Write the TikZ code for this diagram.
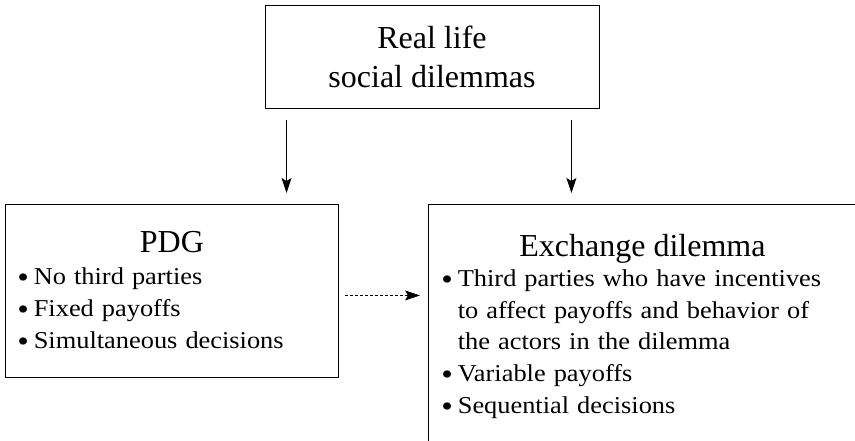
\documentclass[tikz,border=0pt]{standalone}
\usepackage{fontspec}
\setmainfont{Liberation Serif}[FakeStretch=1.09]
\newfontfamily{\ttlfamily}{Liberation Serif}
\usepackage{graphicx}
\usepackage{tikz}
\usetikzlibrary{positioning}
\usetikzlibrary{arrows.meta}
\newcommand{\ttlfont}{\ttlfamily\fontsize{32}{39}\selectfont}
\newcommand{\bul}{\raisebox{-0.12em}{\scalebox{1.25}{\textbullet}}\hspace{0.2em}}
\tikzset{
    x=1pt, y=-1pt, % one unit is one pixel of the page
    box/.style={ % Frame of every block
        draw,
        line width=0.9pt,
        font=\fontsize{24.2}{31.7}\selectfont
    },
    listbox/.style={ % Block with a title and bullet lines
        box,
        anchor=north west,
        align=left
    },
    every edge/.style={ % Sets the properties for each link
        draw,
        -{Stealth[length=15pt,width=10pt,inset=3pt]},
        line width=0.8pt
    }
}

\begin{document}
\begin{tikzpicture}
            \clip (0,0) rectangle (855,440);
            \node[box, align=center, font=\ttlfont, minimum width=334pt, minimum height=103pt] (real) at (432,56.5) {Real life\\social dilemmas};
            \node[listbox, minimum width=333pt, minimum height=173pt, inner xsep=12pt, text width=309pt] (pdg) at (5,204)
                {\vspace*{3pt}{\centering\ttlfont PDG\par}\vspace{-2pt}
                 \bul No third parties\\
                 \bul Fixed payoffs\\
                 \bul Simultaneous decisions};
            \node[listbox, minimum width=428pt, minimum height=244pt, inner xsep=13pt, text width=402pt] (exch) at (428,204)
                {{\centering\ttlfont Exchange dilemma\par}\vspace{-2pt}
                 \bul Third parties who have incentives\\
                 \phantom{\bul}to affect payoffs and behavior of\\
                 \phantom{\bul}the actors in the dilemma\\
                 \bul Variable payoffs\\
                 \bul Sequential decisions};

            \draw ([xshift=22pt]real.south west) edge[shorten <=12pt, shorten >=11pt] ([xshift=22pt]real.south west |- pdg.north);
            \draw ([xshift=-28pt]real.south east) edge[shorten <=12pt, shorten >=11pt] ([xshift=-28pt]real.south east |- exch.north);
            \draw ([yshift=-4.5pt]pdg.east) edge[dashed, dash pattern=on 3pt off 2pt, line width=0.6pt, shorten <=6pt, shorten >=8pt] ([yshift=-4.5pt]pdg.east -| exch.west);

        \end{tikzpicture}
\end{document}
